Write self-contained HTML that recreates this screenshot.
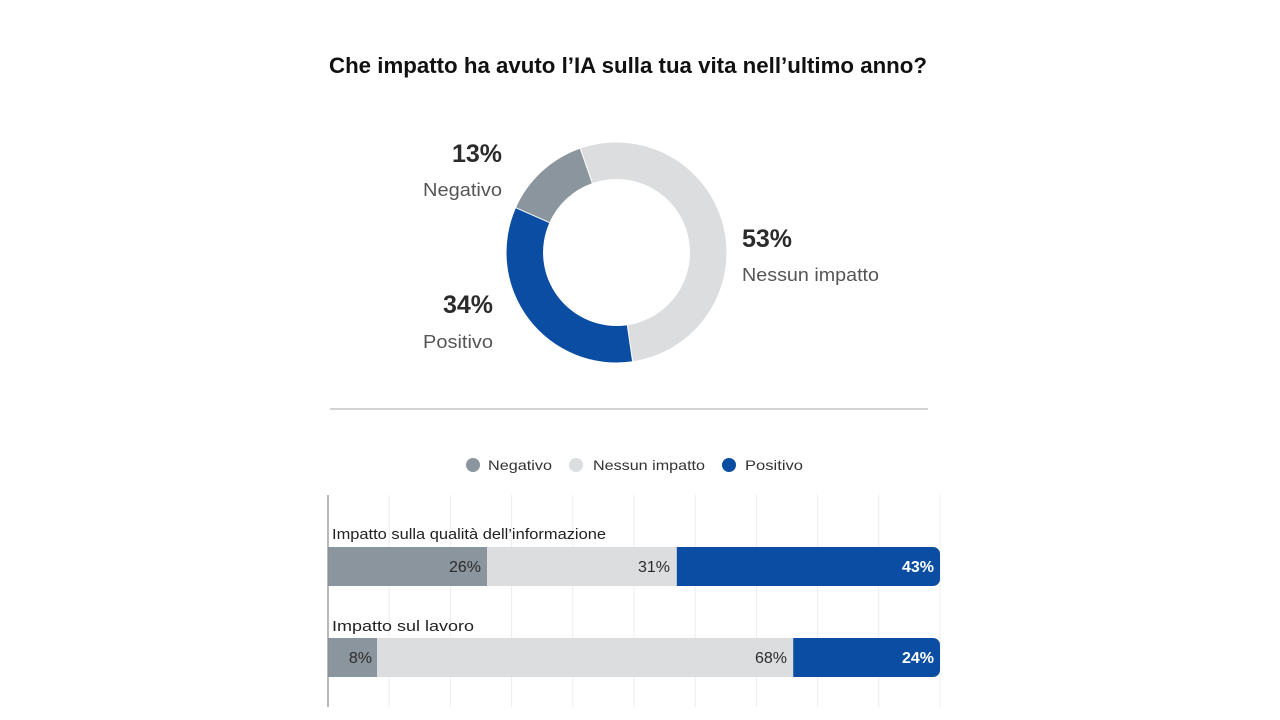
<!DOCTYPE html>
<html>
<head>
<meta charset="utf-8">
<style>
html,body{margin:0;padding:0;background:#fff;}
svg{display:block;}
text{font-family:"Liberation Sans",sans-serif;}
</style>
</head>
<body>
<svg width="1280" height="720" viewBox="0 0 1280 720" xmlns="http://www.w3.org/2000/svg">
  <rect width="1280" height="720" fill="#fff"/>
  <!-- Title -->
  <text x="329" y="73" font-size="22" font-weight="bold" fill="#111" textLength="598" lengthAdjust="spacingAndGlyphs">Che impatto ha avuto l’IA sulla tua vita nell’ultimo anno?</text>

  <!-- Donut -->
  <g transform="translate(616.5,252.5)">
    <!-- Nessun impatto: -19.2deg to 171.6deg -->
    <path d="M -36.2 -103.9 A 110 110 0 1 1 16.1 108.8 L 10.8 72.7 A 73.5 73.5 0 1 0 -24.2 -69.4 Z" fill="#dcdddf"/>
    <!-- Positivo: 171.6 to 294 -->
    <path d="M 16.1 108.8 A 110 110 0 0 1 -100.5 -44.7 L -67.1 -29.9 A 73.5 73.5 0 0 0 10.8 72.7 Z" fill="#0a4da2"/>
    <!-- Negativo: 294 to 340.8 -->
    <path d="M -100.5 -44.7 A 110 110 0 0 1 -36.2 -103.9 L -24.2 -69.4 A 73.5 73.5 0 0 0 -67.1 -29.9 Z" fill="#8a959e"/>
    <line x1="-100.5" y1="-44.7" x2="-67.1" y2="-29.9" stroke="#fff" stroke-width="1"/>
    <line x1="16.1" y1="108.8" x2="10.8" y2="72.7" stroke="#fff" stroke-width="1"/>
    <line x1="-36.2" y1="-103.9" x2="-24.2" y2="-69.4" stroke="#fff" stroke-width="1"/>
  </g>

  <!-- Donut labels -->
  <text x="502" y="162" font-size="25" font-weight="bold" fill="#2b2b2b" text-anchor="end">13%</text>
  <text x="502" y="196" font-size="18" fill="#555" text-anchor="end" textLength="79" lengthAdjust="spacingAndGlyphs">Negativo</text>
  <text x="493" y="313" font-size="25" font-weight="bold" fill="#2b2b2b" text-anchor="end">34%</text>
  <text x="493" y="348" font-size="18" fill="#555" text-anchor="end" textLength="70" lengthAdjust="spacingAndGlyphs">Positivo</text>
  <text x="742" y="247" font-size="25" font-weight="bold" fill="#2b2b2b">53%</text>
  <text x="742" y="281" font-size="18" fill="#555" textLength="137" lengthAdjust="spacingAndGlyphs">Nessun impatto</text>

  <!-- Separator -->
  <line x1="330" y1="409" x2="928" y2="409" stroke="#d2d2d2" stroke-width="2"/>

  <!-- Legend -->
  <circle cx="473" cy="465" r="7" fill="#8a959e"/>
  <text x="488" y="470" font-size="14" fill="#333" textLength="64" lengthAdjust="spacingAndGlyphs">Negativo</text>
  <circle cx="576" cy="465" r="7" fill="#dcdddf"/>
  <text x="593" y="470" font-size="14" fill="#333" textLength="112" lengthAdjust="spacingAndGlyphs">Nessun impatto</text>
  <circle cx="729" cy="465" r="7" fill="#0a4da2"/>
  <text x="745" y="470" font-size="14" fill="#333" textLength="58" lengthAdjust="spacingAndGlyphs">Positivo</text>

  <!-- Gridlines -->
  <g stroke="#ececec" stroke-width="1">
    <line x1="389.2" y1="495" x2="389.2" y2="707"/>
    <line x1="450.4" y1="495" x2="450.4" y2="707"/>
    <line x1="511.6" y1="495" x2="511.6" y2="707"/>
    <line x1="572.8" y1="495" x2="572.8" y2="707"/>
    <line x1="634" y1="495" x2="634" y2="707"/>
    <line x1="695.2" y1="495" x2="695.2" y2="707"/>
    <line x1="756.4" y1="495" x2="756.4" y2="707"/>
    <line x1="817.6" y1="495" x2="817.6" y2="707"/>
    <line x1="878.8" y1="495" x2="878.8" y2="707"/>
    <line x1="940" y1="495" x2="940" y2="707"/>
  </g>

  <!-- Bar 1 -->
  <text x="332" y="539" font-size="14.5" fill="#222" textLength="274" lengthAdjust="spacingAndGlyphs">Impatto sulla qualità dell’informazione</text>
  <rect x="328" y="547" width="159.1" height="39" fill="#8a959e"/>
  <rect x="487.1" y="547" width="189.7" height="39" fill="#dcdddf"/>
  <path d="M 676.8 547 H 933 A 7 7 0 0 1 940 554 V 579 A 7 7 0 0 1 933 586 H 676.8 Z" fill="#0a4da2"/>
  <text x="481" y="572" font-size="16" fill="#2b2b2b" text-anchor="end">26%</text>
  <text x="670" y="572" font-size="16" fill="#2b2b2b" text-anchor="end">31%</text>
  <text x="934" y="572" font-size="16" font-weight="bold" fill="#fff" text-anchor="end">43%</text>

  <!-- Bar 2 -->
  <text x="332" y="631" font-size="14.5" fill="#222" textLength="142" lengthAdjust="spacingAndGlyphs">Impatto sul lavoro</text>
  <rect x="328" y="638" width="49" height="39" fill="#8a959e"/>
  <rect x="377" y="638" width="416.2" height="39" fill="#dcdddf"/>
  <path d="M 793.2 638 H 933 A 7 7 0 0 1 940 645 V 670 A 7 7 0 0 1 933 677 H 793.2 Z" fill="#0a4da2"/>
  <text x="372" y="663" font-size="16" fill="#2b2b2b" text-anchor="end">8%</text>
  <text x="787" y="663" font-size="16" fill="#2b2b2b" text-anchor="end">68%</text>
  <text x="934" y="663" font-size="16" font-weight="bold" fill="#fff" text-anchor="end">24%</text>

  <!-- Axis line -->
  <line x1="328" y1="495" x2="328" y2="707" stroke="#8c8c8c" stroke-width="1.2"/>
</svg>
</body>
</html>
